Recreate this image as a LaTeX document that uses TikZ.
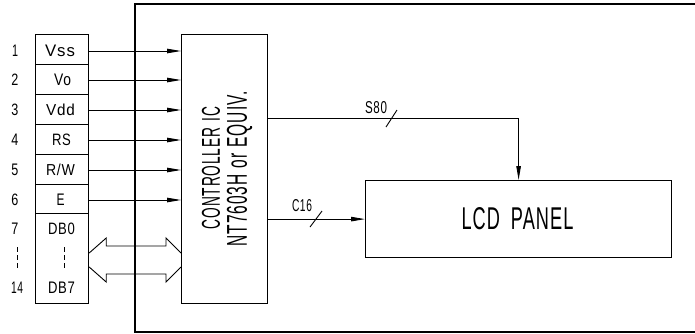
\documentclass[tikz,border=0pt]{standalone}
\usepackage{fontspec}
\setmainfont[LetterSpace=6]{Liberation Sans}
\usetikzlibrary{arrows.meta,calc}
\newcommand\rsz[3]{\resizebox{#1pt}{#2pt}{#3}}
\begin{document}
\begin{tikzpicture}[x=1pt,y=-1pt,line join=miter]
\tikzset{
  boxline/.style={line width=1.2pt},
  cell/.style={draw,line width=1.2pt,minimum width=53pt,anchor=north west,inner sep=0pt},
  blk/.style={draw,line width=1.2pt,anchor=north west,inner sep=0pt},
  sig/.style={line width=0.9pt,-{Triangle[length=14pt,width=4.5pt]}},
  thin/.style={line width=0.9pt},
  dotline/.style={line width=0.9pt,dash pattern=on 5pt off 3pt},
  txt/.style={inner sep=0pt},
}
\useasboundingbox (0,0) rectangle (695,333);
% module outline
\draw[boxline] (695,4) -- (135,4) -- (135,332) -- (695,332);
% pin cells
\node[cell,minimum height=30pt] (c1) at (35,34) {};
\node[cell,minimum height=30pt] (c2) at (35,64) {};
\node[cell,minimum height=30pt] (c3) at (35,94) {};
\node[cell,minimum height=30pt] (c4) at (35,124) {};
\node[cell,minimum height=30pt] (c5) at (35,154) {};
\node[cell,minimum height=29pt] (c6) at (35,184) {};
\node[cell,minimum height=90pt] (c7) at (35,213) {};
% controller and panel
\node[blk,minimum width=86pt,minimum height=269pt] (ctrl) at (181,34) {};
\node[blk,minimum width=306pt,minimum height=77pt] (lcd) at (365,180) {};
% pin labels
\node[txt] (t1) at (60,51) {\rsz{30}{11.5}{Vss}};
\node[txt] (t2) at (62.5,80) {\rsz{17}{11.5}{Vo}};
\node[txt] (t3) at (60.5,110) {\rsz{29}{11.5}{Vdd}};
\node[txt] (t4) at (61.5,140) {\rsz{19}{11.5}{RS}};
\node[txt] (t5) at (60.5,170) {\rsz{29}{11.5}{R/W}};
\node[txt] (t6) at (60.5,200) {\rsz{8}{11.5}{E}};
\node[txt] (t7) at (61.5,229) {\rsz{27}{11.5}{DB0}};
\node[txt] (t8) at (61.5,288) {\rsz{27}{11.5}{DB7}};
% pin numbers
\node[txt] (n1) at (15,51) {\rsz{6}{11.5}{1}};
\node[txt] (n2) at (15,80) {\rsz{7}{11.5}{2}};
\node[txt] (n3) at (15,110) {\rsz{7}{11.5}{3}};
\node[txt] (n4) at (15,140) {\rsz{7}{11.5}{4}};
\node[txt] (n5) at (15,170) {\rsz{7}{11.5}{5}};
\node[txt] (n6) at (15,200) {\rsz{7}{11.5}{6}};
\node[txt] (n7) at (15,229) {\rsz{7}{11.5}{7}};
\node[txt] (n8) at (17,288) {\rsz{12}{11.5}{14}};
% dashed continuation marks
\draw[dotline] (17,247) -- (17,268);
\draw[dotline] (64,247) -- (64,268);
% signal arrows
\foreach \i in {1,...,6}{
  \draw[sig] (t\i -| c\i.east) -- (t\i -| ctrl.west);
}
% data bus double arrow
\coordinate (dl) at (c7.east |- 0,260);
\coordinate (dr) at (ctrl.west |- 0,260);
\draw[thin] ($(dl)+(0,-7)$) -- ($(dl)+(17,-22)$) -- ($(dl)+(17,-14)$)
  -- ($(dr)+(-15,-14)$) -- ($(dr)+(-15,-22)$) -- ($(dr)+(0,-7)$);
\draw[thin] ($(dl)+(0,7)$) -- ($(dl)+(17,22)$) -- ($(dl)+(17,14)$)
  -- ($(dr)+(-15,14)$) -- ($(dr)+(-15,22)$) -- ($(dr)+(0,7)$);
% controller text
\node[txt,rotate=90] (ct1) at (211,168) {\rsz{122}{18}{CONTROLLER\hspace{0.45em}IC}};
\node[txt,rotate=90] (ct2) at (239.5,169) {\rsz{155}{20}{NT7603H\hspace{0.4em}or\hspace{0.4em}EQUIV.}};
% outputs
\draw[sig] (ctrl.east |- 0,118) -| (lcd.north);
\draw[sig] (ctrl.east |- lcd.west) -- (lcd.west);
\draw[thin] (386,127) -- (397,110);
\draw[thin] (310,227) -- (322,211);
\node[txt] (s80) at (376,108) {\rsz{22}{12}{S80}};
\node[txt] (c16) at (302,206) {\rsz{20}{12}{C16}};
\node[txt] (lcdt) at (517.5,219) {\rsz{112}{22}{LCD\hspace{0.6em}PANEL}};
\end{tikzpicture}
\end{document}
